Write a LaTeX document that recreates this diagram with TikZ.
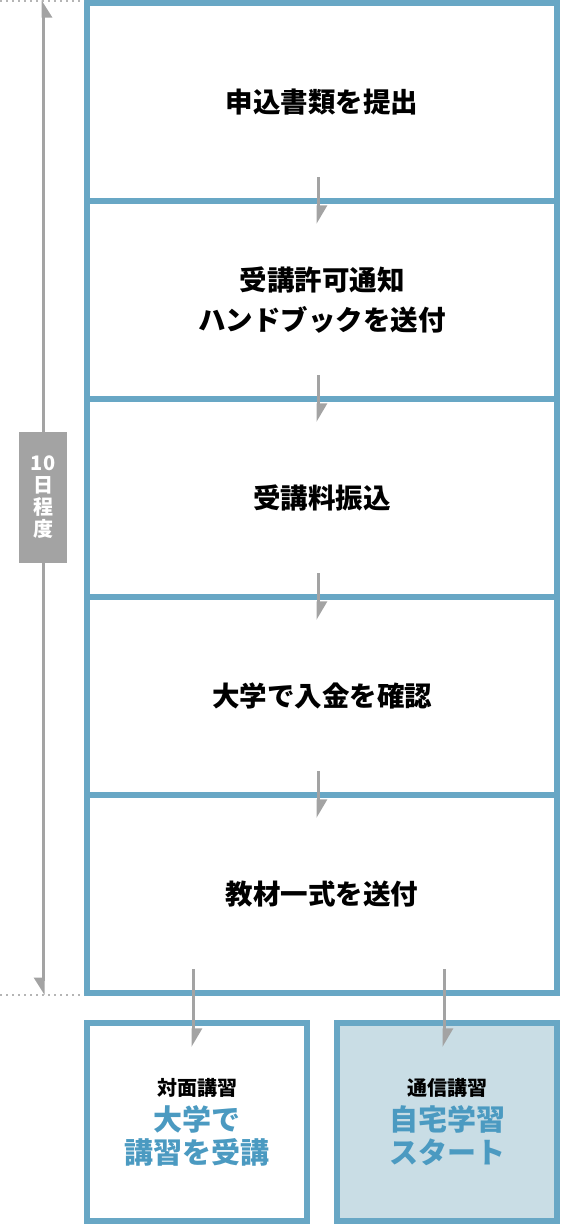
\documentclass[tikz,border=0pt]{standalone}
\usepackage{xcolor}
\usepackage{fontspec}
\usepackage{tikz}
\usetikzlibrary{arrows.meta,calc}
\setmainfont{Noto Sans CJK JP}
\definecolor{khung}{HTML}{68A7C5}
\definecolor{nen}{HTML}{C9DDE5}
\definecolor{chuxanh}{HTML}{4B9AC1}
\definecolor{xam}{HTML}{A3A3A3}

\begin{document}
\begin{tikzpicture}[x=1pt,y=-1pt,
	buoc/.style={draw=khung,line width=6pt,minimum width=470pt,minimum height=198pt,inner sep=0pt,align=center,font=\fontsize{27.5}{40}\selectfont\bfseries},
	nhanh/.style={draw=khung,line width=6pt,minimum width=220pt,minimum height=198pt,inner sep=0pt,align=center,text=chuxanh,font=\fontsize{29}{33}\selectfont\bfseries},
	muiten/.style={draw=xam,line width=3pt,-{Triangle[harpoon,length=16pt,width=18pt]}},
	thoigian/.style={draw=xam,line width=3pt,-{Triangle[harpoon,swap,length=15pt,width=18pt]}},
	cham/.style={draw=xam!80,line width=1.5pt,dash pattern=on 2pt off 4pt}]
			\useasboundingbox (0,0) rectangle (560,1224);
			% Vẽ các bước
			\foreach \t [count=\i] in {申込書類を提出,{受講許可通知\\ハンドブックを送付},受講料振込,大学で入金を確認,教材一式を送付}
			\node[buoc] (b\i) at (322,{102+198*(\i-1)}) {\t};
			\foreach \i [count=\j from 2] in {1,...,4}
			\draw[muiten] ([xshift=-4pt,yshift=27pt]b\i.south) -- ([xshift=-4pt,yshift=-26pt]b\j.north);
			% Vẽ hai hướng học
			\node[nhanh] (doimat) at (197,1122) {{\color{black}\fontsize{20}{24}\selectfont 対面講習}\\[2pt]大学で\\講習を受講};
			\node[nhanh,fill=nen] (tuxa) at (447,1122) {{\color{black}\fontsize{20}{24}\selectfont 通信講習}\\[2pt]自宅学習\\スタート};
			\draw[muiten] ($(doimat.north |- b5.south)+(-4,-27)$) -- ($(doimat.north)+(-4,27)$);
			\draw[muiten] ($(tuxa.north |- b5.south)+(-3,-27)$) -- ($(tuxa.north)+(-3,27)$);
			% Vẽ trục thời gian
			\node[fill=xam,text=white,minimum width=48pt,minimum height=131pt,inner sep=0pt,align=center,font=\fontsize{20}{22}\selectfont\bfseries] (nhan) at (43,497.5) {10\\日\\程\\度};
			\coordinate (dinh) at (43,0);
			\coordinate (day) at (43,995);
			\draw[thoigian] (nhan) -- (dinh);
			\draw[thoigian] (nhan) -- (day);
			\draw[cham] (0,1) -- (84,1);
			\draw[cham] (0,995) -- (84,995);
		\end{tikzpicture}
\end{document}
